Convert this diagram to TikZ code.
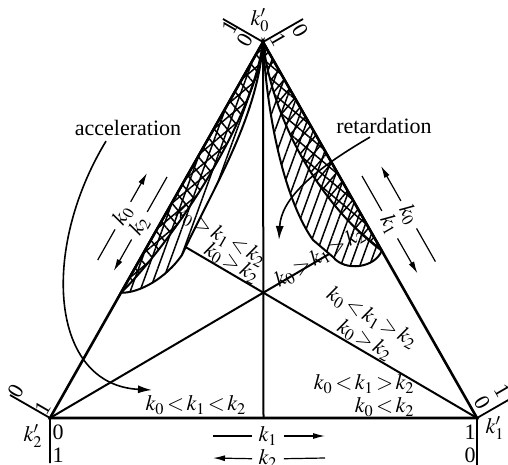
\documentclass[tikz,border=0pt]{standalone}
\usepackage{mathptmx}
\usepackage{fontspec}
\setmainfont{Liberation Serif}
\usepackage{tikz}
\usetikzlibrary{arrows.meta,calc,patterns.meta}
\newcommand{\kls}{\!<\!}
\newcommand{\kgr}{\!>\!}
\tikzset{
    rim/.style={line width=1.3pt},
    median/.style={line width=1pt},
    scaleline/.style={line width=0.9pt},
    sideline/.style={line width=0.6pt},
    sidearrow/.style={sideline, -{Latex[length=6pt,width=3pt]}},
    txt/.style={font=\fontsize{11}{13}\selectfont, inner sep=0.5pt},
    axislabel/.style={txt, inner sep=3pt},
    hatchcrossL/.style={pattern={Lines[angle=40,distance=5pt,line width=0.75pt]},
        postaction={pattern={Lines[angle=-50,distance=5pt,line width=0.75pt]}}},
    hatchcrossR/.style={pattern={Lines[angle=50,distance=5pt,line width=0.75pt]},
        postaction={pattern={Lines[angle=-40,distance=5pt,line width=0.75pt]}}},
    hatchsingle/.style={pattern={Lines[angle=70,distance=4.5pt,line width=0.75pt]}},
    zone/.style={fill=white, draw, line width=1pt, postaction={hatchsingle}},
    pointer/.style={line width=0.8pt, -{Latex[length=7pt,width=4pt]}}
}

\begin{document}
\begin{tikzpicture}[x=0.5pt, y=-0.5pt]
        \useasboundingbox (0,0) rectangle (508,465);
        \coordinate (A) at (263,42);
        \coordinate (B) at (50,418);
        \coordinate (C) at (477,418);
        \coordinate (mAB) at ($(A)!0.5!(B)$);
        \coordinate (mAC) at ($(A)!0.5!(C)$);
        \coordinate (mBC) at ($(B)!0.5!(C)$);

        \draw[median] (A) -- (mBC);
        \draw[median] (B) -- (mAC);
        \draw[median] (C) -- (mAB);

        % hatched zones
        \coordinate (pL) at ($(A)!0.667!(B)$);
        \coordinate (tipL) at (182,255);
        \path[zone] (A) -- (pL) .. controls (140,293) and (166,278) .. (tipL)
            .. controls (212,190) and (258,118) .. (A) -- cycle;
        \draw[line width=1pt, hatchcrossL] (A) -- (pL) .. controls (165,250) and (252,128) .. (A) -- cycle;

        \coordinate (pR) at ($(A)!0.555!(C)$);
        \coordinate (tipR) at (313,240);
        \path[zone] (A) .. controls (268,130) and (288,205) .. (tipR) -- (333,257)
            .. controls (345,272) and (375,268) .. (pR) -- cycle;
        \draw[line width=1pt, hatchcrossR] (A) -- (pR) .. controls (320,205) and (272,120) .. (A) -- cycle;

        \draw[rim] (A) -- (B) -- (C) -- cycle;

        % scales at the corners
        \coordinate (tA1) at (223,19);
        \coordinate (tA2) at (303,19);
        \coordinate (tB1) at (10,395);
        \coordinate (tB2) at (50,463);
        \coordinate (tC1) at (517,395);
        \coordinate (tC2) at (477,465);
        \draw[scaleline] (tA1) -- (A) -- (tA2);
        \draw[scaleline] (tB1) -- (B) -- (tB2);
        \draw[scaleline] (tC1) -- (C) -- (tC2);

        \node[txt] (kA) at (260,20) {$k'_0$};
        \node[txt, rotate=60] (a1) at (230,27) {1};
        \node[txt, rotate=60] (a0) at (245,40) {0};
        \node[txt, rotate=-60] (a0r) at (300,31) {0};
        \node[txt, rotate=-60] (a1r) at (279,40) {1};

        \node[txt, rotate=60] (b0) at (16,391) {0};
        \node[txt, rotate=60] (b1) at (43,408) {1};
        \node[txt] (kB) at (33,436) {$k'_2$};
        \node[txt] (b0d) at (58,432) {0};
        \node[txt] (b1d) at (58,455) {1};

        \node[txt, rotate=-60] (c0) at (482,403) {0};
        \node[txt, rotate=-60] (c1) at (503,391) {1};
        \node[txt] (kC) at (495,428) {$k'_1$};
        \node[txt] (c1d) at (470,432) {1};
        \node[txt] (c0d) at (470,455) {0};

        % arrows beside the sides
        \coordinate (oLtop) at (147,173);
        \coordinate (oLbot) at ($(oLtop)+100*(-0.493,0.870)$);
        \node[axislabel, rotate=60] (k0L) at ($(oLtop)+49*(-0.493,0.870)$) {$k_0$};
        \draw[sidearrow] (k0L) -- (oLtop);
        \draw[sideline] (k0L) -- (oLbot);

        \coordinate (iLtop) at (167,177);
        \coordinate (iLbot) at ($(iLtop)+108*(-0.493,0.870)$);
        \node[axislabel, rotate=60] (k2L) at ($(iLtop)+56*(-0.493,0.870)$) {$k_2$};
        \draw[sideline] (k2L) -- (iLtop);
        \draw[sidearrow] (k2L) -- (iLbot);

        \coordinate (oRtop) at (381,166);
        \coordinate (oRbot) at ($(oRtop)+110*(0.4947,0.8692)$);
        \node[axislabel, rotate=-60] (k0R) at ($(oRtop)+56*(0.4947,0.8692)$) {$k_0$};
        \draw[sidearrow] (k0R) -- (oRtop);
        \draw[sideline] (k0R) -- (oRbot);

        \coordinate (iRtop) at (362,176);
        \coordinate (iRbot) at ($(iRtop)+112*(0.4947,0.8692)$);
        \node[axislabel, rotate=-60] (k1R) at ($(iRtop)+56*(0.4947,0.8692)$) {$k_1$};
        \draw[sideline] (k1R) -- (iRtop);
        \draw[sidearrow] (k1R) -- (iRbot);

        \coordinate (u1L) at (213,436);
        \coordinate (u1R) at (325,436);
        \node[axislabel] (k1B) at (268,436) {$k_1$};
        \draw[sideline] (k1B) -- (u1L);
        \draw[sidearrow] (k1B) -- (u1R);

        \coordinate (u2L) at (213,458);
        \coordinate (u2R) at (325,458);
        \node[axislabel] (k2B) at (268,459) {$k_2$};
        \draw[sidearrow] (k2B) -- (u2L);
        \draw[sideline] (k2B) -- (u2R);

        % region labels
        \node[txt] (r1) at (196,405) {$k_0\kls k_1\kls k_2$};
        \node[txt, anchor=east] (r2) at (416,384) {$k_0\kls k_1\kgr k_2$};
        \node[txt, anchor=east] (r2b) at (416,407) {$k_0\kls k_2$};
        \node[txt, rotate=-30] (r3) at (372,318) {$k_0\kls k_1\kgr k_2$};
        \node[txt, rotate=-30] (r3b) at (365,340) {$k_0\kgr k_2$};
        \node[txt, rotate=-30] (r4) at (221,236) {$k_0\kgr k_1\kls k_2$};
        \node[txt, rotate=-30] (r4b) at (232,263) {$k_0\kgr k_2$};
        \node[txt, rotate=30] (r5) at (320,257) {$k_0\kgr k_1\kgr k_2$};

        \node[txt] (acc) at (128,128) {acceleration};
        \node[txt] (ret) at (384,126) {retardation};
        \coordinate (accend) at (152,390);
        \coordinate (retend) at (279,240);
        \draw[pointer] ($(acc.south)+(-22,4)$) .. controls (40,250) and (50,385) .. (accend);
        \draw[pointer] ($(ret.south)+(-14,2)$) .. controls (310,172) and (281,200) .. (retend);
    \end{tikzpicture}
\end{document}
